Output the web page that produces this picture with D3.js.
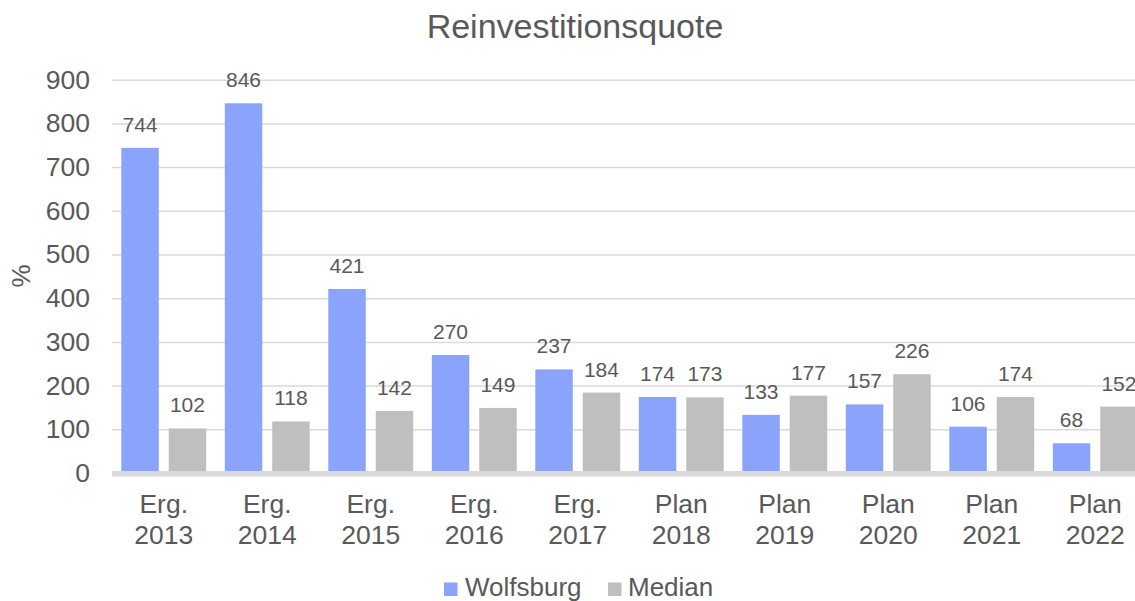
<!DOCTYPE html>
<html>
<head>
<meta charset="utf-8">
<script src="https://cdn.jsdelivr.net/npm/d3@7"></script>
<style>
  html, body { margin: 0; padding: 0; background: #fff; }
  svg { display: block; font-family: "Liberation Sans", Arial, sans-serif; }
</style>
</head>
<body>
<svg id="chart" width="1135" height="601"></svg>
<script>
// Reinvestitionsquote: Wolfsburg vs. Median, in %
const categories = [
  ["Erg.", "2013"], ["Erg.", "2014"], ["Erg.", "2015"], ["Erg.", "2016"], ["Erg.", "2017"],
  ["Plan", "2018"], ["Plan", "2019"], ["Plan", "2020"], ["Plan", "2021"], ["Plan", "2022"]
];
const wolfsburg = [744, 846, 421, 270, 237, 174, 133, 157, 106, 68];
const median    = [102, 118, 142, 149, 184, 173, 177, 226, 174, 152];
const seriesNames = ["Wolfsburg", "Median"];
const yTicks = [0, 100, 200, 300, 400, 500, 600, 700, 800, 900];

const colors = { Wolfsburg: "#89A4FA", Median: "#BFBFBF" };
const textColor = "#595959";
const gridColor = "#D9D9D9";

const svg = d3.select("#chart");

const plot = { left: 112, right: 1147, top: 79.7, bottom: 473 };

const keys = categories.map(c => c.join(" "));
const x = d3.scaleBand().domain(keys).range([plot.left, plot.right]).paddingInner(0).paddingOuter(0);
const xInner = d3.scaleBand().domain(seriesNames).range([9.3, x.bandwidth() - 9.3]).paddingInner(0.21);
const y = d3.scaleLinear().domain([0, 900]).range([plot.bottom, plot.top]);

// Title
svg.append("text")
  .attr("x", 575).attr("y", 38)
  .attr("text-anchor", "middle")
  .attr("font-size", 34)
  .attr("fill", textColor)
  .text("Reinvestitionsquote");

// Gridlines
const yAxis = d3.axisLeft(y).tickValues(yTicks).tickSize(-(plot.right - plot.left)).tickPadding(22);
const gy = svg.append("g").attr("transform", `translate(${plot.left},0)`).call(yAxis);
gy.select(".domain").remove();
gy.selectAll(".tick line").attr("stroke", gridColor).attr("stroke-width", 1.5);
gy.selectAll(".tick text")
  .attr("font-size", 26.5)
  .attr("fill", textColor)
  .attr("font-family", "Liberation Sans, Arial, sans-serif");

// Y-axis title
svg.append("text")
  .attr("transform", `translate(30,276) rotate(-90)`)
  .attr("text-anchor", "middle")
  .attr("font-size", 26)
  .attr("fill", textColor)
  .text("%");

// Bars
const rows = keys.map((k, i) => ({ key: k, values: [
  { name: "Wolfsburg", value: wolfsburg[i] },
  { name: "Median", value: median[i] }
]}));

const groups = svg.append("g").selectAll("g").data(rows).join("g")
  .attr("transform", d => `translate(${x(d.key)},0)`);

groups.selectAll("rect").data(d => d.values).join("rect")
  .attr("x", d => xInner(d.name))
  .attr("width", xInner.bandwidth())
  .attr("y", d => y(d.value))
  .attr("height", d => y(0) - y(d.value))
  .attr("fill", d => colors[d.name]);

groups.selectAll("text.val").data(d => d.values).join("text")
  .attr("class", "val")
  .attr("x", d => xInner(d.name) + xInner.bandwidth() / 2)
  .attr("y", d => y(d.value) - 16)
  .attr("text-anchor", "middle")
  .attr("font-size", 21)
  .attr("fill", textColor)
  .text(d => d.value);

// Category axis line
svg.append("line")
  .attr("x1", plot.left).attr("x2", plot.right)
  .attr("y1", y(0) + 0.8).attr("y2", y(0) + 0.8)
  .attr("stroke", gridColor).attr("stroke-width", 5.5);

// Category labels (two lines)
const catLabels = svg.append("g").selectAll("text").data(categories).join("text")
  .attr("x", (d, i) => x(keys[i]) + x.bandwidth() / 2)
  .attr("text-anchor", "middle")
  .attr("font-size", 26.5)
  .attr("fill", textColor);
catLabels.append("tspan").attr("x", (d, i) => x(keys[i]) + x.bandwidth() / 2).attr("y", 513).text(d => d[0]);
catLabels.append("tspan").attr("x", (d, i) => x(keys[i]) + x.bandwidth() / 2).attr("y", 544).text(d => d[1]);

// Legend
const legendItems = [
  { name: "Wolfsburg", sx: 444, tx: 465 },
  { name: "Median", sx: 608, tx: 628 }
];
const lg = svg.append("g");
lg.selectAll("rect").data(legendItems).join("rect")
  .attr("x", d => d.sx).attr("y", 582.5).attr("width", 13.5).attr("height", 13.5)
  .attr("fill", d => colors[d.name]);
lg.selectAll("text").data(legendItems).join("text")
  .attr("x", d => d.tx).attr("y", 596)
  .attr("font-size", 26)
  .attr("fill", textColor)
  .text(d => d.name);
</script>
</body>
</html>
